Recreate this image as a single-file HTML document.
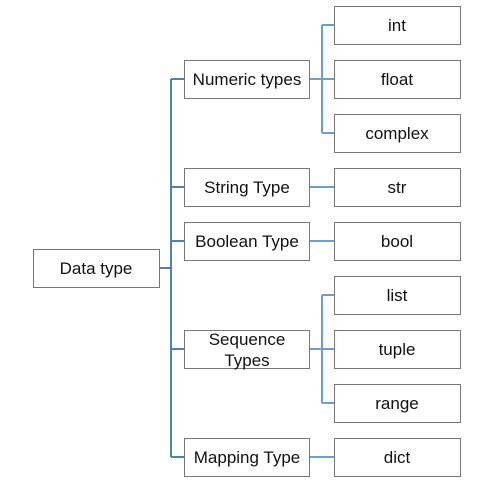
<!DOCTYPE html>
<html><head><style>
body{margin:0;background:#fff;width:477px;height:489px;overflow:hidden}
svg text{font-family:"Liberation Sans",sans-serif;font-size:17px;fill:#111;text-anchor:middle}
</style></head><body>
<svg width="477" height="489" viewBox="0 0 477 489">
<g stroke="#5580ad" stroke-width="2" fill="none">
<path d="M160 268H171M171 79V457M171 79H184M171 187H184M171 241H184M171 349H184M171 457H184"/>
</g>
<g stroke="#6e9dcc" stroke-width="2" fill="none">
<path d="M310 79H334M322 25V133M322 25H334M322 133H334"/>
<path d="M310 187H334M310 241H334M310 457H334"/>
<path d="M310 349H334M322 295V403M322 295H334M322 403H334"/>
</g>
<g stroke="#777" stroke-width="1" fill="#fff">
<rect x="33.5" y="249.5" width="126" height="38"/>
<rect x="184.5" y="60.5" width="125" height="38"/>
<rect x="184.5" y="168.5" width="125" height="38"/>
<rect x="184.5" y="222.5" width="125" height="38"/>
<rect x="184.5" y="330.5" width="125" height="38"/>
<rect x="184.5" y="438.5" width="125" height="38"/>
<rect x="334.5" y="6.5" width="126" height="38"/>
<rect x="334.5" y="60.5" width="126" height="38"/>
<rect x="334.5" y="114.5" width="126" height="38"/>
<rect x="334.5" y="168.5" width="126" height="38"/>
<rect x="334.5" y="222.5" width="126" height="38"/>
<rect x="334.5" y="276.5" width="126" height="38"/>
<rect x="334.5" y="330.5" width="126" height="38"/>
<rect x="334.5" y="384.5" width="126" height="38"/>
<rect x="334.5" y="438.5" width="126" height="38"/>
</g>
<text x="96" y="274">Data type</text>
<text x="247" y="85">Numeric types</text>
<text x="247" y="193">String Type</text>
<text x="247" y="247">Boolean Type</text>
<text x="247" y="345">Sequence</text>
<text x="247" y="366">Types</text>
<text x="247" y="463">Mapping Type</text>
<text x="397" y="31">int</text>
<text x="397" y="85">float</text>
<text x="397" y="139">complex</text>
<text x="397" y="193">str</text>
<text x="397" y="247">bool</text>
<text x="397" y="301">list</text>
<text x="397" y="355">tuple</text>
<text x="397" y="409">range</text>
<text x="397" y="463">dict</text>
</svg>
</body></html>
